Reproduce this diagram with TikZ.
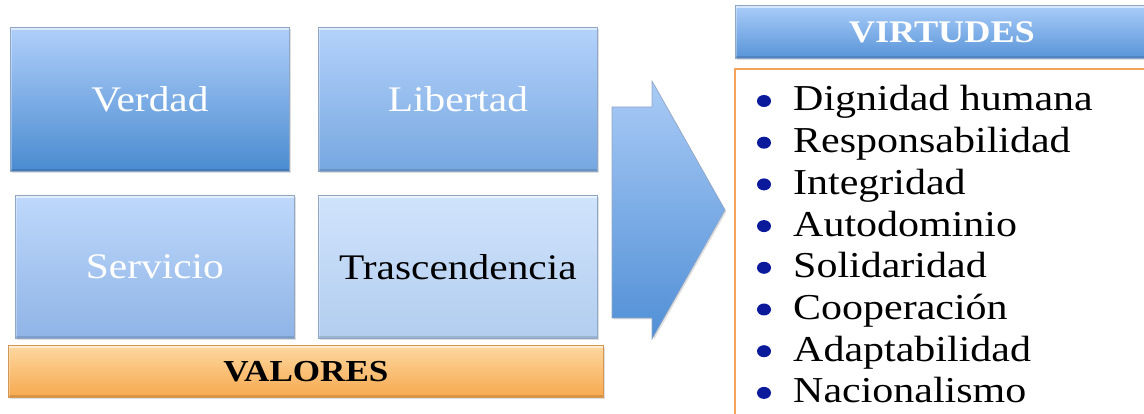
\documentclass[tikz,border=0pt]{standalone}
\usepackage{fontspec}
\setmainfont[FakeStretch=1.15]{Liberation Serif}
\usetikzlibrary{shadows}
\definecolor{bdr}{HTML}{8FA6C6}
\definecolor{bul}{HTML}{0A1A9A}
\definecolor{obdr}{HTML}{F4A45A}
\definecolor{vaT}{RGB}{176,207,250}\definecolor{vaB}{RGB}{74,139,208}
\definecolor{liT}{RGB}{180,210,251}\definecolor{liB}{RGB}{118,167,224}
\definecolor{seT}{RGB}{190,216,251}\definecolor{seB}{RGB}{143,180,230}
\definecolor{trT}{RGB}{208,227,252}\definecolor{trB}{RGB}{178,205,239}
\definecolor{orT}{RGB}{253,216,160}\definecolor{orB}{RGB}{247,168,78}
\definecolor{orD}{RGB}{214,150,80}
\definecolor{viT}{RGB}{170,205,249}\definecolor{viB}{RGB}{88,148,216}
\definecolor{arT}{RGB}{170,203,246}\definecolor{arB}{RGB}{80,143,214}
\tikzset{
  shad/.style={drop shadow={shadow xshift=1.5pt, shadow yshift=-1.5pt, opacity=0.25}},
  bevel/.style={path picture={
    \draw[white, opacity=0.55, line width=3pt]
      ([yshift=-1.5pt]path picture bounding box.north west) -- ([yshift=-1.5pt]path picture bounding box.north east);
    \draw[white, opacity=0.3, line width=2pt]
      ([xshift=1pt]path picture bounding box.north west) -- ([xshift=1pt]path picture bounding box.south west);
    \draw[black, opacity=0.12, line width=2pt]
      ([yshift=1pt]path picture bounding box.south west) -- ([yshift=1pt]path picture bounding box.south east);}},
  vbox/.style={draw=bdr, line width=0.8pt, shad, bevel, anchor=north west, inner sep=0pt,
    minimum width=279pt, minimum height=144pt, font=\fontsize{36}{40}\selectfont},
  item/.style={anchor=base west, text=black, font=\fontsize{36.5}{40}\selectfont, inner sep=0pt}
}
\begin{document}
\begin{tikzpicture}[x=1pt,y=-1pt]
\useasboundingbox (0,0) rectangle (1144,414);
% value boxes
\node[vbox, top color=vaT, bottom color=vaB, text=white] (verdad) at (10,27) {Verdad};
\node[vbox, top color=liT, bottom color=liB, text=white] (libertad) at (318,27) {Libertad};
\node[vbox, top color=seT, bottom color=seB, text=white, minimum height=143pt] (servicio) at (15,195) {Servicio};
\node[vbox, top color=trT, bottom color=trB, text=black, minimum height=143pt] (trasc) at (318,195) {Trascendencia};
% VALORES bar
\node[draw=orD, line width=0.8pt, shad, bevel, top color=orT, bottom color=orB, anchor=north west, inner sep=0pt,
  minimum width=595pt, minimum height=52pt, font=\bfseries\fontsize{30.5}{34}\selectfont] (valores) at (8,345) {VALORES};
% arrow
\draw[draw=bdr, line width=0.6pt, shad, top color=arT, bottom color=arB]
  (612,107) -- (652,107) -- (652,81) -- (725,210) -- (652,339) -- (652,318) -- (612,318) -- cycle;
% VIRTUDES header
\node[draw=bdr, line width=0.8pt, shad, bevel, top color=viT, bottom color=viB, anchor=north west, inner sep=0pt,
  minimum width=415pt, minimum height=53pt, text=white, font=\bfseries\fontsize{31.5}{34}\selectfont] (virtudes) at (735,5) {\hspace*{-2pt}VIRTUDES\hspace*{0pt}};
% list box
\node[draw=obdr, line width=2pt, fill=white, anchor=north west, minimum width=416pt, minimum height=352pt] (lista) at (734,68) {};
\foreach \t [count=\i from 0] in {Dignidad humana,Responsabilidad,Integridad,Autodominio,Solidaridad,Cooperación,Adaptabilidad,Nacionalismo}{
  \fill[bul] (764,{111+41.7*\i-10}) ellipse (7pt and 6pt);
  \node[item] (it\i) at (793,{111+41.7*\i}) {\t};
}
\end{tikzpicture}
\end{document}
